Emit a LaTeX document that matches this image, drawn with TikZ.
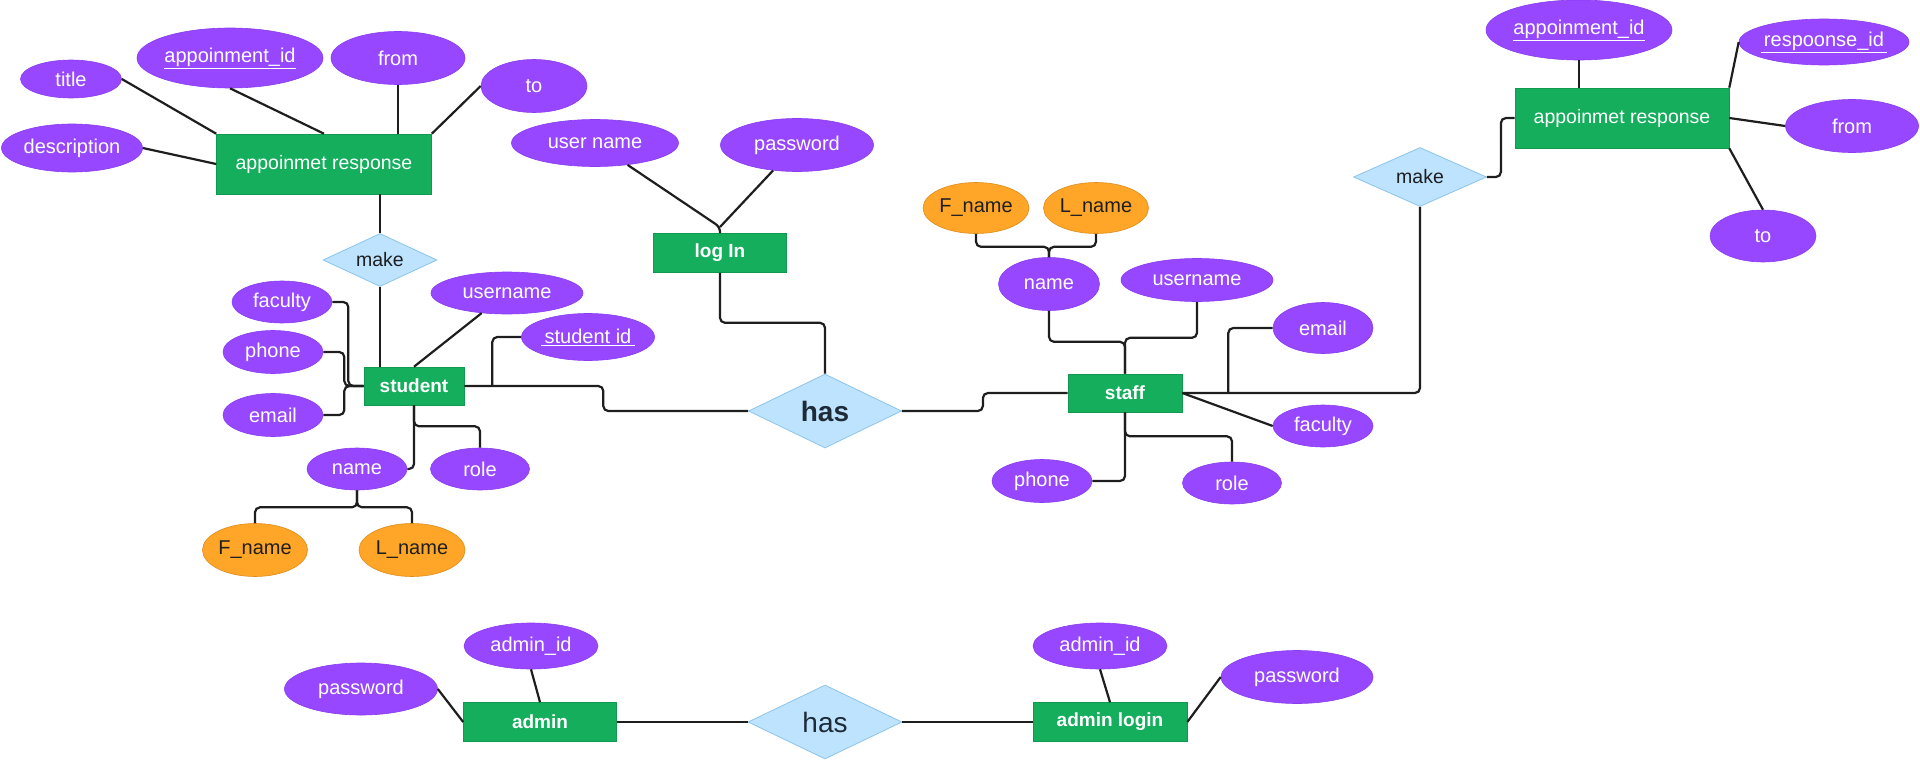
\documentclass[tikz,border=0pt]{standalone}
\usepackage{fontspec}
\setmainfont{Liberation Sans}
\usetikzlibrary{shapes.geometric,calc}
\definecolor{pur}{HTML}{9747FF}
\definecolor{purb}{HTML}{8A3DF0}
\definecolor{grn}{HTML}{14AE5C}
\definecolor{grnb}{HTML}{109A50}
\definecolor{lblue}{HTML}{BDE3FF}
\definecolor{lbord}{HTML}{8CC4EC}
\definecolor{org}{HTML}{FFA629}
\definecolor{orgb}{HTML}{DE8C1C}
\definecolor{ink}{HTML}{1E1E1E}
\definecolor{navy}{HTML}{1F2A37}
\newcommand{\zb}[1]{\makebox[0pt]{#1}}
\tikzset{
  sz/.style 2 args={minimum width=#1pt,minimum height=#2pt},
  attr/.style={ellipse,fill=pur,draw=purb,line width=0.6pt,inner sep=0pt,text=white,font=\fontsize{20}{22}\selectfont},
  sub/.style={ellipse,fill=org,draw=orgb,line width=0.6pt,inner sep=0pt,text=ink,font=\fontsize{20}{22}\selectfont},
  ent/.style={rectangle,fill=grn,draw=grnb,line width=0.6pt,inner sep=0pt,text=white,font=\bfseries\fontsize{19}{22}\selectfont},
  entr/.style={ent,font=\fontsize{19.5}{22}\selectfont},
  rel/.style={diamond,aspect=2,fill=lblue,draw=lbord,line width=0.8pt,inner sep=0pt,text=ink,font=\fontsize{19.5}{22}\selectfont},
  relbig/.style={rel,text=navy,font=\bfseries\fontsize{28}{30}\selectfont},
  relbigr/.style={rel,text=navy,font=\fontsize{28}{30}\selectfont},
  conn/.style={draw=ink,line width=2.2pt,rounded corners=5pt},
}
\begin{document}
\begin{tikzpicture}[x=1pt,y=-1pt]
\useasboundingbox (0,0) rectangle (1920,760);

% ---------- top-left appointment response ----------
\node[entr,sz={215}{60}] (ar1) at (324,164) {\zb{appoinmet response}};
\node[attr,sz={101}{38}] (a_title) at (71,79) {\zb{title}};
\node[attr,sz={141}{48}] (a_desc) at (72,148) {\zb{description}};
\node[attr,sz={186}{60}] (a_apid) at (230,58) {\zb{\underline{appoinment\_id}}};
\node[attr,sz={134}{53}] (a_from) at (398,58) {\zb{from}};
\node[attr,sz={106}{53}] (a_to) at (534,86) {\zb{to}};
\node[rel,sz={114}{53}] (make1) at (380,260) {\zb{make}};

% ---------- log in ----------
\node[ent,sz={133}{39}] (login) at (720,253) {\zb{log In}};
\node[attr,sz={167}{47}] (l_user) at (595,143) {\zb{user name}};
\node[attr,sz={153}{53}] (l_pw) at (797,145) {\zb{password}};
\node[relbig,sz={153}{74}] (has1) at (825,411) {\zb{has}};
\coordinate (lj) at (720,227);

% ---------- student ----------
\node[ent,sz={100}{38}] (student) at (414,386) {\zb{student}};
\node[attr,sz={100}{42}] (s_fac) at (282,302) {\zb{faculty}};
\node[attr,sz={100}{43}] (s_phone) at (273,352) {\zb{phone}};
\node[attr,sz={100}{43}] (s_email) at (273,415) {\zb{email}};
\node[attr,sz={152}{42}] (s_user) at (507,293) {\zb{username}};
\node[attr,sz={133}{47}] (s_id) at (588,337) {\zb{\underline{\,student id\,}}};
\node[attr,sz={99}{42}] (s_role) at (480,469) {\zb{role}};
\node[attr,sz={100}{42}] (s_name) at (357,469) {\zb{name}};
\node[sub,sz={105}{53}] (s_fn) at (255,550) {\zb{F\_name}};
\node[sub,sz={106}{53}] (s_ln) at (412,550) {\zb{L\_name}};

% ---------- staff ----------
\node[ent,sz={114}{38}] (staff) at (1125,393) {\zb{staff}};
\node[sub,sz={106}{51}] (t_fn) at (976,208) {\zb{F\_name}};
\node[sub,sz={105}{51}] (t_ln) at (1096,208) {\zb{L\_name}};
\node[attr,sz={101}{53}] (t_name) at (1049,284) {\zb{name}};
\node[attr,sz={152}{43}] (t_user) at (1197,280) {\zb{username}};
\node[attr,sz={100}{51}] (t_email) at (1323,328) {\zb{email}};
\node[attr,sz={100}{42}] (t_fac) at (1323,426) {\zb{faculty}};
\node[attr,sz={100}{43}] (t_phone) at (1042,481) {\zb{phone}};
\node[attr,sz={99}{42}] (t_role) at (1232,483) {\zb{role}};

% ---------- right appointment response ----------
\node[entr,sz={214}{60}] (ar2) at (1622,118) {\zb{appoinmet response}};
\node[attr,sz={186}{60}] (r_apid) at (1579,30) {\zb{\underline{appoinment\_id}}};
\node[attr,sz={170}{46}] (r_rid) at (1824,42) {\zb{\underline{\,respoonse\_id\,}}};
\node[attr,sz={133}{53}] (r_from) at (1852,126) {\zb{from}};
\node[attr,sz={106}{52}] (r_to) at (1763,236) {\zb{to}};
\node[rel,sz={133}{59}] (make2) at (1420,177) {\zb{make}};

% ---------- bottom admin ----------
\node[ent,sz={153}{39}] (admin) at (540,722) {\zb{admin}};
\node[attr,sz={134}{46}] (b_id1) at (531,646) {\zb{admin\_id}};
\node[attr,sz={153}{52}] (b_pw1) at (361,689) {\zb{password}};
\node[relbigr,sz={154}{74}] (has2) at (825,722) {\zb{has}};
\node[ent,sz={154}{39}] (adlogin) at (1110,722) {\zb{admin login}};
\node[attr,sz={134}{46}] (b_id2) at (1100,646) {\zb{admin\_id}};
\node[attr,sz={152}{53}] (b_pw2) at (1297,677) {\zb{password}};

% ---------- connectors ----------
% top-left
\draw[conn] (a_title.east) -- (ar1.north west);
\draw[conn] (a_apid.south) -- (ar1.north);
\draw[conn] (a_from.south) -- (a_from.south |- ar1.north);
\draw[conn] (a_to.west) -- (ar1.north east);
\draw[conn] (a_desc.east) -- (ar1.west);
\draw[conn] (make1.north) -- (make1.north |- ar1.south);
\draw[conn] (make1.south) -- (make1.south |- student.north);
% student
\draw[conn] (s_user) -- (student.north);
\draw[conn] (s_fac.east) -- ++(16,0) |- (student.west);
\draw[conn] (s_phone.east) -- ++(21,0) |- (student.west);
\draw[conn] (s_email.east) -- ++(21,0) |- (student.west);
\draw[conn] (s_id.west) -| ($(student.east)+(28,0)$);
\draw[conn] (student.east) -- ++(139,0) |- (has1.west);
\draw[conn] (student.south) |- (s_name.east);
\draw[conn] (student.south) -- ++(0,21) -| (s_role.north);
\draw[conn] (s_name.south) -- ++(0,17) -| (s_fn.north);
\draw[conn] (s_name.south) -- ++(0,17) -| (s_ln.north);
% log in
\draw[conn] (l_user) -- (lj) -- (login.north);
\draw[conn] (l_pw) -- (lj);
\draw[conn] (login.south) -- ++(0,50) -| (has1.north);
% staff
\draw[conn] (has1.east) -- ++(81,0) |- (staff.west);
\draw[conn] (t_name.south) -- ++(0,31) -| (staff.north);
\draw[conn] (t_user.south) -- ++(0,36) -| (staff.north);
\draw[conn] (t_fn.south) -- ++(0,13) -| (t_name.north);
\draw[conn] (t_ln.south) -- ++(0,13) -| (t_name.north);
\draw[conn] (staff.east) -| (make2.south);
\draw[conn] (t_email.west) -| ($(staff.east)+(46,0)$);
\draw[conn] (t_fac.west) -- (staff.east);
\draw[conn] (staff.south) -- ++(0,24) -| (t_role.north);
\draw[conn] (staff.south) |- (t_phone.east);
% right cluster
\draw[conn] (make2.east) -- ++(14,0) |- (ar2.west);
\draw[conn] (r_apid.south) -- (r_apid.south |- ar2.north);
\draw[conn] (r_rid.west) -- (ar2.north east);
\draw[conn] (r_from.west) -- (ar2.east);
\draw[conn] (r_to.north) -- (ar2.south east);
% bottom
\draw[conn] (b_pw1.east) -- (admin.west);
\draw[conn] (b_id1.south) -- (admin.north);
\draw[conn] (admin.east) -- (has2.west);
\draw[conn] (has2.east) -- (adlogin.west);
\draw[conn] (b_id2.south) -- (adlogin.north);
\draw[conn] (b_pw2.west) -- (adlogin.east);
\end{tikzpicture}
\end{document}
